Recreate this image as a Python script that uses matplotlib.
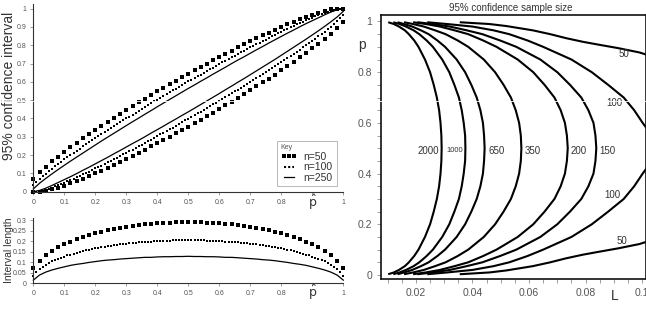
import numpy as np
import matplotlib
matplotlib.use("Agg")
import matplotlib.pyplot as plt
from matplotlib.lines import Line2D

plt.rcParams['font.family'] = ['Liberation Sans', 'DejaVu Sans']
plt.rcParams['mathtext.fontset'] = 'dejavusans'

# ---------------- data: left panels (values in thousandths) ----------------
P_HAT_50 = [0.00, 0.02, 0.04, 0.06, 0.08, 0.10, 0.12, 0.14, 0.16, 0.18, 0.20, 0.22, 0.24, 0.26, 0.28,
            0.30, 0.32, 0.34, 0.36, 0.38, 0.40, 0.42, 0.44, 0.46, 0.48, 0.50, 0.52, 0.54, 0.56, 0.58,
            0.60, 0.62, 0.64, 0.66, 0.68, 0.70, 0.72, 0.74, 0.76, 0.78, 0.80, 0.82, 0.84, 0.86, 0.88,
            0.90, 0.92, 0.94, 0.96, 0.98, 1.00]
UPPER_50 = [71, 106, 137, 165, 192, 218, 243, 267, 291, 314, 337, 360, 382, 403, 425, 446, 467, 488, 508,
            528, 548, 568, 587, 607, 626, 645, 663, 682, 700, 718, 736, 753, 771, 788, 805, 821, 838, 854,
            869, 885, 900, 914, 928, 942, 955, 967, 978, 987, 995, 999, 1000]
LOWER_50 = [0, 1, 5, 13, 22, 33, 45, 58, 72, 86, 100, 115, 131, 146, 162, 179, 195, 212, 229, 247, 264,
            282, 300, 318, 337, 355, 374, 393, 413, 432, 452, 472, 492, 512, 533, 554, 575, 597, 618, 640,
            663, 686, 709, 733, 757, 782, 808, 835, 863, 894, 929]

P_HAT_100 = [0.00, 0.01, 0.02, 0.03, 0.04, 0.05, 0.06, 0.07, 0.08, 0.09, 0.10, 0.11, 0.12, 0.13, 0.14,
             0.15, 0.16, 0.17, 0.18, 0.19, 0.20, 0.21, 0.22, 0.23, 0.24, 0.25, 0.26, 0.27, 0.28, 0.29,
             0.30, 0.31, 0.32, 0.33, 0.34, 0.35, 0.36, 0.37, 0.38, 0.39, 0.40, 0.41, 0.42, 0.43, 0.44,
             0.45, 0.46, 0.47, 0.48, 0.49, 0.50, 0.51, 0.52, 0.53, 0.54, 0.55, 0.56, 0.57, 0.58, 0.59,
             0.60, 0.61, 0.62, 0.63, 0.64, 0.65, 0.66, 0.67, 0.68, 0.69, 0.70, 0.71, 0.72, 0.73, 0.74,
             0.75, 0.76, 0.77, 0.78, 0.79, 0.80, 0.81, 0.82, 0.83, 0.84, 0.85, 0.86, 0.87, 0.88, 0.89,
             0.90, 0.91, 0.92, 0.93, 0.94, 0.95, 0.96, 0.97, 0.98, 0.99, 1.00]
UPPER_100 = [36, 54, 70, 85, 99, 113, 126, 139, 152, 164, 176, 188, 200, 212, 224, 235, 247, 258, 269, 281,
             292, 303, 314, 325, 336, 347, 357, 368, 379, 389, 400, 410, 421, 431, 442, 452, 462, 472, 483,
             493, 503, 513, 523, 533, 543, 553, 563, 572, 582, 592, 602, 611, 621, 631, 640, 650, 659, 669,
             678, 687, 697, 706, 715, 724, 734, 743, 752, 761, 770, 779, 788, 796, 805, 814, 823, 831, 840,
             848, 857, 865, 873, 882, 890, 898, 906, 914, 921, 929, 936, 944, 951, 958, 965, 971, 978, 984,
             989, 994, 998, 1000, 1000]
LOWER_100 = [0, 0, 2, 6, 11, 16, 22, 29, 35, 42, 49, 56, 64, 71, 79, 86, 94, 102, 110, 118, 127, 135, 143,
             152, 160, 169, 177, 186, 195, 204, 212, 221, 230, 239, 248, 257, 266, 276, 285, 294, 303, 313,
             322, 331, 341, 350, 360, 369, 379, 389, 398, 408, 418, 428, 437, 447, 457, 467, 477, 487, 497,
             507, 517, 528, 538, 548, 558, 569, 579, 590, 600, 611, 621, 632, 643, 653, 664, 675, 686, 697,
             708, 719, 731, 742, 753, 765, 776, 788, 800, 812, 824, 836, 848, 861, 874, 887, 901, 915, 930,
             946, 964]

P_HAT_250 = P_HAT_50
UPPER_250 = [15, 46, 72, 97, 121, 144, 167, 189, 211, 233, 255, 277, 298, 319, 340, 361, 382, 402, 423, 443,
             464, 484, 504, 524, 544, 564, 583, 603, 622, 642, 661, 680, 700, 719, 737, 756, 775, 793, 812,
             830, 848, 866, 883, 901, 918, 934, 950, 966, 981, 993, 1000]
LOWER_250 = [0, 7, 19, 34, 50, 66, 82, 99, 117, 134, 152, 170, 188, 207, 225, 244, 263, 281, 300, 320, 339,
             358, 378, 397, 417, 436, 456, 476, 496, 516, 536, 557, 577, 598, 618, 639, 660, 681, 702, 723,
             745, 767, 789, 811, 833, 856, 879, 903, 928, 954, 985]

# ---------------- data: right panel (p on y, L on x) ----------------
P_CURVE = [0.003, 0.01, 0.02, 0.035, 0.05, 0.075, 0.1, 0.15, 0.2, 0.25, 0.3, 0.35, 0.4, 0.45, 0.5,
           0.55, 0.6, 0.65, 0.7, 0.75, 0.8, 0.85, 0.9, 0.925, 0.95, 0.965, 0.98, 0.99, 0.997]
L_2000 = [0.0102, 0.0122, 0.0140, 0.0161, 0.0175, 0.0194, 0.0209, 0.0232, 0.0250, 0.0263, 0.0274, 0.0282, 0.0287, 0.0290, 0.0291,
          0.0290, 0.0287, 0.0282, 0.0274, 0.0263, 0.0250, 0.0232, 0.0209, 0.0194, 0.0175, 0.0161, 0.0140, 0.0122, 0.0102]
L_1000 = [0.0120, 0.0142, 0.0165, 0.0192, 0.0212, 0.0238, 0.0260, 0.0293, 0.0318, 0.0336, 0.0352, 0.0362, 0.0369, 0.0374, 0.0375,
          0.0374, 0.0369, 0.0362, 0.0352, 0.0336, 0.0318, 0.0293, 0.0260, 0.0238, 0.0212, 0.0192, 0.0165, 0.0142, 0.0120]
L_650 = [0.0135, 0.0158, 0.0187, 0.0218, 0.0245, 0.0276, 0.0303, 0.0344, 0.0374, 0.0396, 0.0415, 0.0428, 0.0437, 0.0441, 0.0443,
         0.0441, 0.0437, 0.0428, 0.0415, 0.0396, 0.0374, 0.0344, 0.0303, 0.0276, 0.0245, 0.0218, 0.0187, 0.0158, 0.0135]
L_350 = [0.0158, 0.0190, 0.0228, 0.0268, 0.0305, 0.0348, 0.0385, 0.0440, 0.0480, 0.0510, 0.0536, 0.0553, 0.0565, 0.0571, 0.0573,
         0.0571, 0.0565, 0.0553, 0.0536, 0.0510, 0.0480, 0.0440, 0.0385, 0.0348, 0.0305, 0.0268, 0.0228, 0.0190, 0.0158]
L_200 = [0.0190, 0.0235, 0.0285, 0.0337, 0.0385, 0.0438, 0.0485, 0.0560, 0.0615, 0.0655, 0.0690, 0.0712, 0.0727, 0.0734, 0.0737,
         0.0734, 0.0727, 0.0712, 0.0690, 0.0655, 0.0615, 0.0560, 0.0485, 0.0438, 0.0385, 0.0337, 0.0285, 0.0235, 0.0190]
L_150 = [0.0205, 0.0260, 0.0320, 0.0380, 0.0435, 0.0498, 0.0555, 0.0640, 0.0700, 0.0745, 0.0785, 0.0810, 0.0828, 0.0835, 0.0838,
         0.0835, 0.0828, 0.0810, 0.0785, 0.0745, 0.0700, 0.0640, 0.0555, 0.0498, 0.0435, 0.0380, 0.0320, 0.0260, 0.0205]
L_100 = [0.0240, 0.0310, 0.0400, 0.0475, 0.0530, 0.0595, 0.0650, 0.0750, 0.0822, 0.0880, 0.0935, 0.0972, 0.1002, 0.1035, 0.1060,
         0.1035, 0.1002, 0.0972, 0.0935, 0.0880, 0.0822, 0.0750, 0.0650, 0.0595, 0.0530, 0.0475, 0.0400, 0.0310, 0.0240]
P_CURVE_50 = [0.003, 0.01, 0.018, 0.035, 0.05, 0.066, 0.08, 0.092, 0.105, 0.122, 0.16,
              0.84, 0.878, 0.895, 0.908, 0.92, 0.934, 0.95, 0.965, 0.982, 0.99, 0.997]
L_50 = [0.0355, 0.0460, 0.0520, 0.0614, 0.0675, 0.0732, 0.0790, 0.0849, 0.0915, 0.0990, 0.1100,
        0.1100, 0.0990, 0.0915, 0.0849, 0.0790, 0.0732, 0.0675, 0.0614, 0.0520, 0.0460, 0.0355]

CURVE_LABELS = ['2000', '1000', '650', '350', '200', '150', '100', '100', '50', '50']
LABEL_L = [0.0243, 0.0339, 0.0486, 0.0613, 0.0774, 0.0877, 0.0902, 0.0896, 0.0937, 0.0930]
LABEL_P = [0.49, 0.49, 0.49, 0.49, 0.49, 0.49, 0.680, 0.3156, 0.872, 0.1353]

# ---------------- figure ----------------
W, H = 646, 313
fig = plt.figure(figsize=(W / 100, H / 100), dpi=100)


def box(l, t, r, b):
    return [l / W, 1 - b / H, (r - l) / W, (b - t) / H]


GRAY = '#555555'
u50, l50 = np.array(UPPER_50) / 1000, np.array(LOWER_50) / 1000
u100, l100 = np.array(UPPER_100) / 1000, np.array(LOWER_100) / 1000
u250, l250 = np.array(UPPER_250) / 1000, np.array(LOWER_250) / 1000

sq50 = dict(marker='s', ls='none', color='black', ms=2.6, mew=0, clip_on=False)
sq100 = dict(marker='s', ls='none', color='black', ms=1.5, mew=0, clip_on=False)
ln250 = dict(ls='-', color='black', lw=0.9, clip_on=False)

ax1 = fig.add_axes(box(33.3, 4, 343.3, 191.7))
ax1.plot(P_HAT_50, u50, **sq50)
ax1.plot(P_HAT_50, l50, **sq50)
ax1.plot(P_HAT_100, u100, **sq100)
ax1.plot(P_HAT_100, l100, **sq100)
ax1.plot(P_HAT_250, u250, **ln250)
ax1.plot(P_HAT_250, l250, **ln250)
ax1.set_xlim(0, 1)
ax1.set_ylim(0, 1.025)

ax2 = fig.add_axes(box(33.3, 217.9, 343.3, 283.3))
ax2.plot(P_HAT_50, u50 - l50, **sq50)
ax2.plot(P_HAT_100, u100 - l100, **sq100)
ax2.plot(P_HAT_250, u250 - l250, **ln250)
ax2.set_xlim(0, 1)
ax2.set_ylim(0, 0.31)

xt = [0, 0.1, 0.2, 0.3, 0.4, 0.5, 0.6, 0.7, 0.8, 0.9, 1]
xtl = ['0', '0.1', '0.2', '0.3', '0.4', '0.5', '0.6', '0.7', '0.8', '', '1']
for ax, yhat in ((ax1, -0.058), (ax2, -0.135)):
    for s in ('top', 'right'):
        ax.spines[s].set_visible(False)
    for s in ('left', 'bottom'):
        ax.spines[s].set_color('#333333')
        ax.spines[s].set_linewidth(0.8)
    ax.set_xticks(xt)
    ax.set_xticklabels(xtl)
    ax.tick_params(length=2, width=0.5, colors='#777777', labelsize=5, labelcolor=GRAY, pad=3)
    ax.text(0.9, yhat, r'$\hat{\mathrm{p}}$', transform=ax.transAxes,
            ha='center', va='center', fontsize=9, color='#333333')
ax1.set_yticks([0, 0.1, 0.2, 0.3, 0.4, 0.5, 0.6, 0.7, 0.8, 0.9, 1])
ax1.set_yticklabels(['0', '0.1', '0.2', '0.3', '0.4', '0.5', '0.6', '0.7', '0.8', '0.9', '1'])
ax2.set_yticks([0, 0.05, 0.1, 0.15, 0.2, 0.25, 0.3])
ax2.set_yticklabels(['0', '0.05', '0.1', '0.15', '0.2', '0.25', '0.3'])

fig.text(9 / W, 1 - 86 / H, '95% confidence interval', rotation=90, ha='center', va='center',
         fontsize=10, color='#333333')
fig.text(9 / W, 1 - 250 / H, 'Interval length', rotation=90, ha='center', va='center',
         fontsize=7.5, color='#333333')

handles = [Line2D([], [], marker='s', ls='none', color='black', ms=2.6, mew=0),
           Line2D([], [], ls=(0, (1, 1)), color='black', lw=1.5),
           Line2D([], [], ls='-', color='black', lw=0.9)]
leg = ax1.legend(handles, ['n=50', 'n=100', 'n=250'], title='Key', loc='lower right',
                 bbox_to_anchor=(0.995, 0.0), fontsize=7.5, title_fontsize=5, frameon=True,
                 fancybox=False, edgecolor='#999999', handlelength=1.6, numpoints=3,
                 labelspacing=0.05, borderpad=0.35, handletextpad=0.6, alignment='left')
leg.get_frame().set_linewidth(0.6)
plt.setp(leg.get_texts(), color='#333333')
leg.get_title().set_color(GRAY)

# ---------------- right panel ----------------
ax3 = fig.add_axes(box(380.5, 15, 645.5, 279.3))
for Ls in (L_2000, L_1000, L_650, L_350, L_200, L_150, L_100):
    ax3.plot(Ls, P_CURVE, '-', color='black', lw=1.5, solid_capstyle='butt', solid_joinstyle='round')
ax3.plot(L_50, P_CURVE_50, '-', color='black', lw=1.5, solid_capstyle='butt', solid_joinstyle='round')
ax3.set_xlim(0.00747, 0.1012)
ax3.set_ylim(-0.017, 1.0256)
for s in ax3.spines.values():
    s.set_linewidth(1.2)
    s.set_color('#111111')
ax3.set_xticks([0.02, 0.04, 0.06, 0.08, 0.1])
ax3.set_xticklabels(['0.02', '0.04', '0.06', '0.08', '0.1'])
ax3.set_xticks([0.01 + 0.005 * i for i in range(19)], minor=True)
ax3.set_yticks([0, 0.2, 0.4, 0.6, 0.8, 1])
ax3.set_yticklabels(['0', '0.2', '0.4', '0.6', '0.8', '1'])
ax3.set_yticks([0.05 * i for i in range(21)], minor=True)
ax3.tick_params(which='both', length=3, width=0.5, colors='#777777', labelsize=7.5, labelcolor=GRAY, pad=3)

for txt, lx, py in zip(CURVE_LABELS, LABEL_L, LABEL_P):
    ax3.text(lx, py, txt, fontsize=5.5 if txt == '1000' else 7, color='#333333',
             ha='center', va='center')

fig.text(511 / W, 1 - 8 / H, '95% confidence sample size', ha='center', va='center', fontsize=7, color='#333333')
fig.text(362 / W, 1 - 45 / H, 'p', ha='center', va='center', fontsize=10, color='#333333')
fig.text(615 / W, 1 - 296 / H, 'L', ha='center', va='center', fontsize=10, color='#333333')

# thin white scan line crossing the whole image
fig.add_artist(Line2D([0, 1], [1 - 100.5 / H, 1 - 100.5 / H], transform=fig.transFigure,
                      color='white', lw=0.6, zorder=100))

fig.savefig('out.png', dpi=100)
